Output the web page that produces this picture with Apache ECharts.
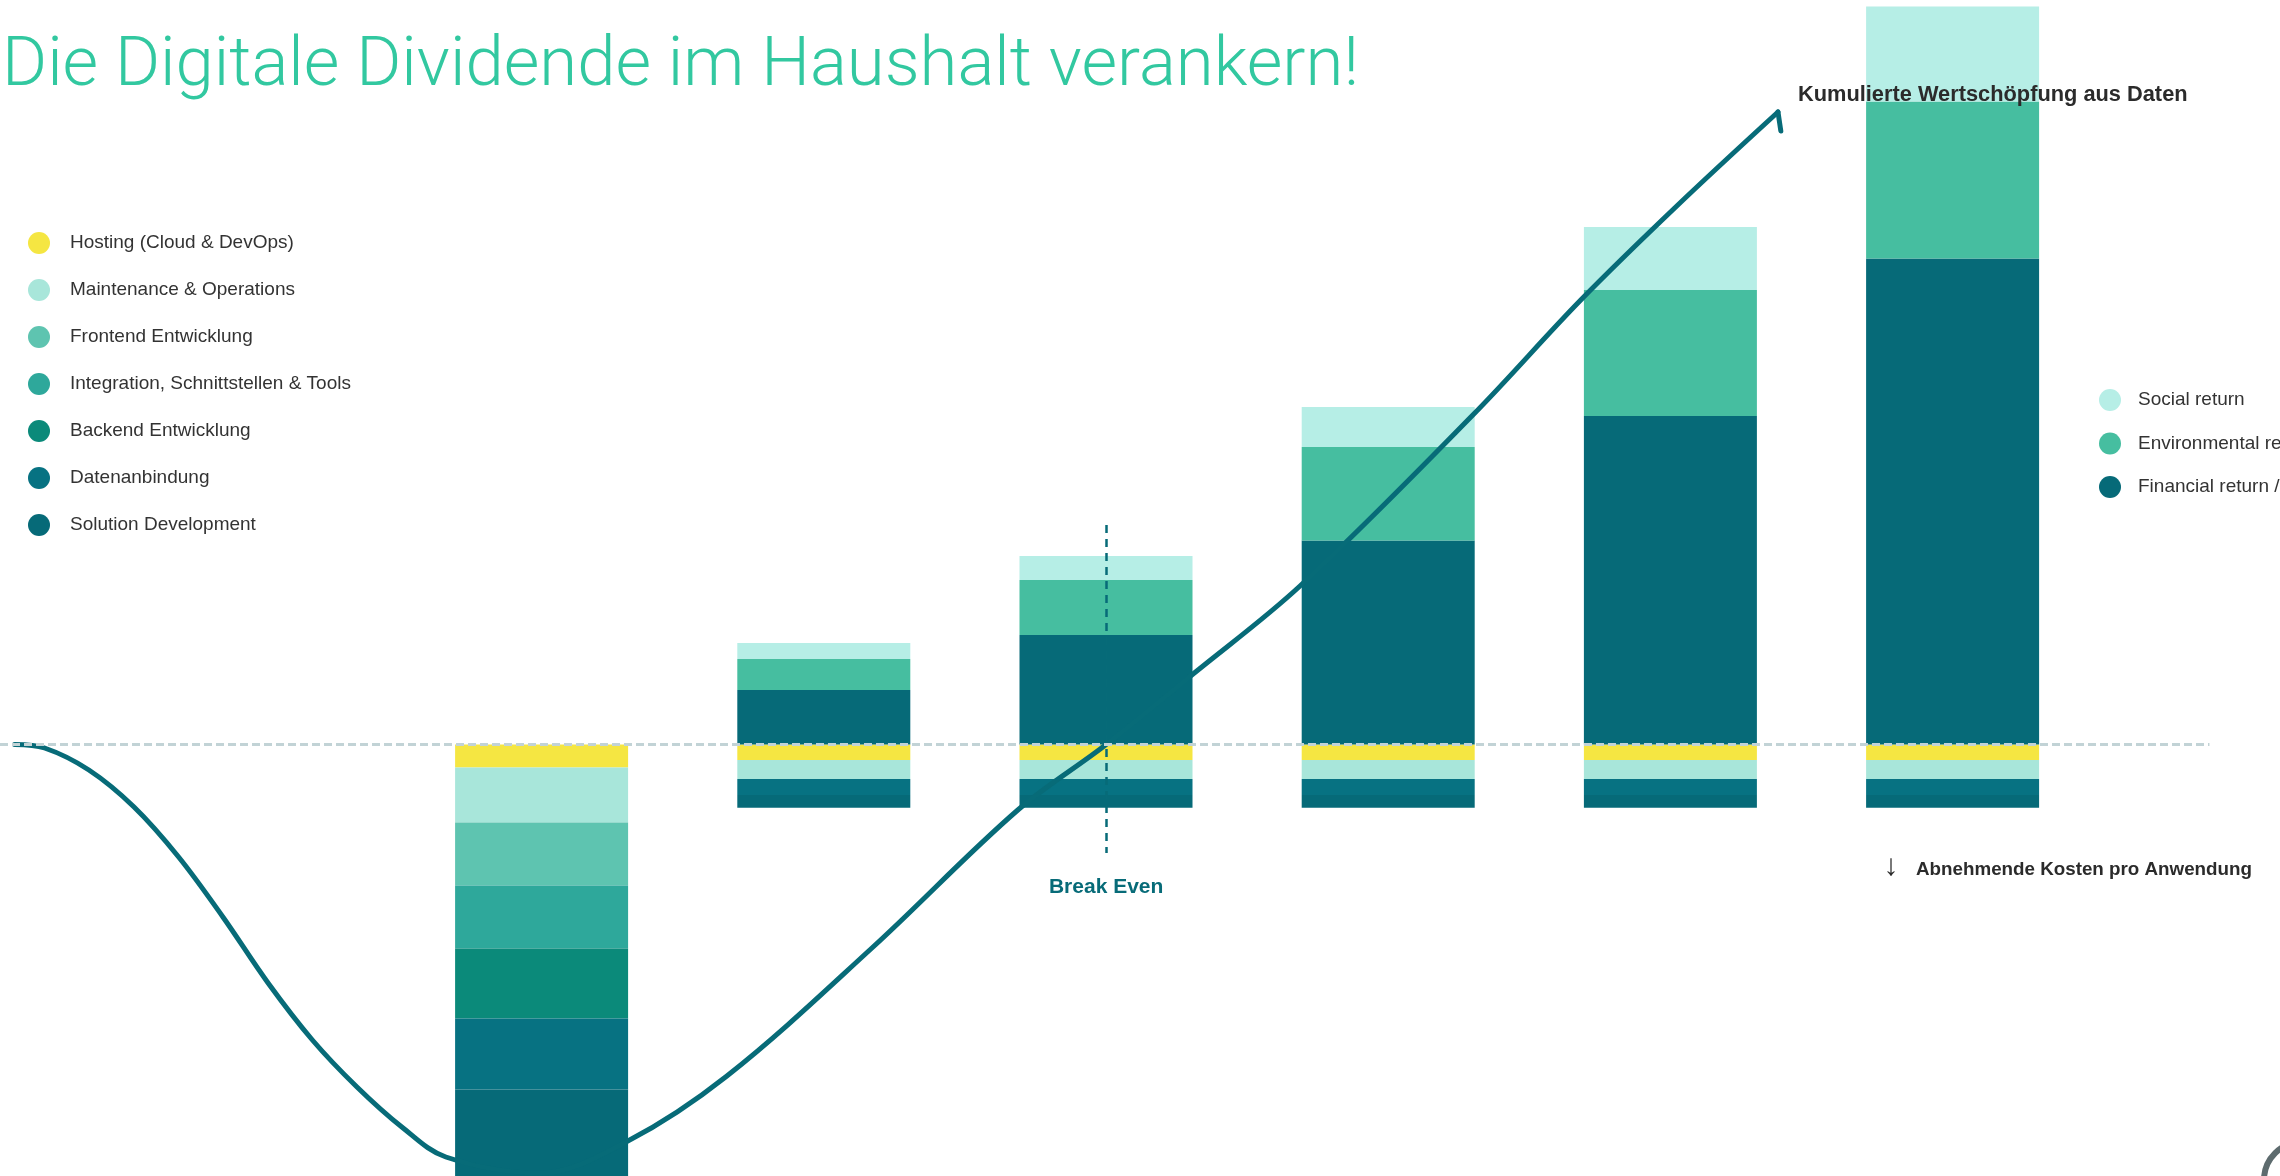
<!DOCTYPE html>
<html>
<head>
<meta charset="utf-8">
<title>Die Digitale Dividende im Haushalt verankern!</title>
<script src="https://cdn.jsdelivr.net/npm/echarts@6/dist/echarts.min.js"></script>
<style>
  html, body { margin: 0; padding: 0; background: #fff; }
  #chart { width: 2280px; height: 1176px; }
</style>
</head>
<body>
<div id="chart"></div>
<script>
// one stacked column per stage
const stages = ['1', '2', '3', '4', '5', '6'];

// costs per stage (below the zero line)
const hosting = [-2.3, -1.55, -1.55, -1.55, -1.55, -1.55];
const maintenance = [-5.5, -1.9, -1.9, -1.9, -1.9, -1.9];
const frontend = [-6.3, 0, 0, 0, 0, 0];
const integration = [-6.3, 0, 0, 0, 0, 0];
const backend = [-7.0, 0, 0, 0, 0, 0];
const datenanbindung = [-7.1, -1.6, -1.6, -1.6, -1.6, -1.6];
const solution = [-9.0, -1.27, -1.27, -1.27, -1.27, -1.27];

// returns per stage (above the zero line)
const financial = [0, 5.45, 10.95, 20.4, 32.85, 48.6];
const environmental = [0, 3.1, 5.5, 9.35, 12.6, 15.7];
const social = [0, 1.6, 2.4, 4.0, 6.3, 9.5];

// cumulative value curve (J-curve) and its arrow barb, x in stage units
const curveX = [-1.868, -1.762, -1.605, -1.445, -1.287, -1.130, -0.970, -0.813, -0.655, -0.496, -0.340, -0.007,
                0.305, 0.656, 1.170, 1.687, 2.0, 2.308, 2.687, 3.303, 3.682, 4.026, 4.381];
const curveY = [0, -0.35, -2.55, -6.25, -11.25, -17.25, -23.85, -29.55, -34.25, -38.25, -41.25, -42.85,
                -39.65, -33.15, -20.35, -6.55, 0, 7.05, 15.85, 33.05, 44.45, 53.95, 63.25];
const barbX = [4.381, 4.391];
const barbY = [63.25, 61.35];

// break even marker
const breakEvenStage = 2;
const breakEvenTop = 21.95;
const breakEvenBottom = -10.85;
const baselineEnd = 5.91;

const costNames = ['Hosting (Cloud & DevOps)', 'Maintenance & Operations', 'Frontend Entwicklung',
    'Integration, Schnittstellen & Tools', 'Backend Entwicklung', 'Datenanbindung', 'Solution Development'];
const costValues = [hosting, maintenance, frontend, integration, backend, datenanbindung, solution];
const costColors = ['#f5e642', '#a8e6da', '#5ec4b0', '#2ea89b', '#0b8a7a', '#077282', '#066a78'];

const returnNames = ['Financial return /', 'Environmental return', 'Social return'];
const returnValues = [financial, environmental, social];
const returnColors = ['#066a78', '#46bea0', '#b6eee6'];

const TEAL = '#076b78';
const FONT = '"Liberation Sans", Arial, Helvetica, sans-serif';
const Y_MIN = -43.15, Y_MAX = 74.45;

const chart = echarts.init(document.getElementById('chart'));

function barSeries(name, values, color) {
    return {
        name: name,
        type: 'bar',
        stack: 'total',
        barWidth: 173,
        xAxisIndex: 0,
        yAxisIndex: 0,
        itemStyle: { color: color },
        data: values,
        z: 2
    };
}

const series = [];
costNames.forEach((n, i) => series.push(barSeries(n, costValues[i], costColors[i])));
returnNames.forEach((n, i) => series.push(barSeries(n, returnValues[i], returnColors[i])));

series.push({
    name: 'Kumulierte Wertschöpfung',
    type: 'line',
    xAxisIndex: 1,
    yAxisIndex: 1,
    smooth: 0.35,
    symbol: 'none',
    clip: false,
    z: 4,
    lineStyle: { color: TEAL, width: 5, cap: 'round' },
    data: curveX.map((x, i) => [x, curveY[i]]),
    markLine: {
        silent: true,
        symbol: 'none',
        data: [
            [
                { coord: [-1.92, 0], lineStyle: { color: '#c2d3d6', width: 3, type: [8, 4] }, label: { show: false } },
                { coord: [baselineEnd, 0] }
            ],
            [
                {
                    coord: [breakEvenStage, breakEvenTop],
                    lineStyle: { color: TEAL, width: 2.5, type: [8, 6] },
                    label: {
                        show: true, position: 'end', distance: 24, formatter: 'Break Even',
                        color: TEAL, fontSize: 21, fontWeight: 'bold', fontFamily: FONT
                    }
                },
                { coord: [breakEvenStage, breakEvenBottom] }
            ]
        ]
    }
});

series.push({
    name: 'Pfeil',
    type: 'line',
    xAxisIndex: 1,
    yAxisIndex: 1,
    symbol: 'none',
    clip: false,
    z: 4,
    lineStyle: { color: TEAL, width: 5, cap: 'round' },
    data: barbX.map((x, i) => [x, barbY[i]])
});

// squeeze the light title to the width it has in the layout
const titleText = 'Die Digitale Dividende im Haushalt verankern!';
const titleFont = '300 69px Roboto';
const ctx = document.createElement('canvas').getContext('2d');
ctx.font = titleFont;
const titleScale = 1357 / ctx.measureText(titleText).width;

const legendText = { color: '#333', fontSize: 19, fontFamily: FONT };

chart.setOption({
    animation: false,
    backgroundColor: '#fff',
    grid: [
        { left: 400.5, right: 186.3, top: 0, bottom: 0 },
        { left: 0, right: 0, top: 0, bottom: 0 }
    ],
    xAxis: [
        { type: 'category', gridIndex: 0, data: stages, show: false },
        { type: 'value', gridIndex: 1, min: -1.92, max: 6.16, show: false }
    ],
    yAxis: [
        { type: 'value', gridIndex: 0, min: Y_MIN, max: Y_MAX, show: false },
        { type: 'value', gridIndex: 1, min: Y_MIN, max: Y_MAX, show: false }
    ],
    legend: [
        {
            data: costNames,
            orient: 'vertical',
            left: 28,
            top: 232,
            padding: 0,
            icon: 'circle',
            itemWidth: 22,
            itemHeight: 22,
            itemGap: 25,
            selectedMode: false,
            textStyle: Object.assign({ padding: [0, 0, 0, 15] }, legendText)
        },
        {
            data: ['Social return', 'Environmental return', 'Financial return /'],
            orient: 'vertical',
            left: 2099,
            top: 389,
            padding: 0,
            icon: 'circle',
            itemWidth: 22,
            itemHeight: 22,
            itemGap: 21.5,
            selectedMode: false,
            textStyle: Object.assign({ padding: [0, 0, 0, 12] }, legendText)
        }
    ],
    graphic: [
        {
            type: 'text', x: 2, y: 68, scaleX: titleScale, z: 10,
            style: {
                text: titleText, font: titleFont, fill: '#32c8a0',
                align: 'left', verticalAlign: 'middle', textAlign: 'left', textVerticalAlign: 'middle'
            }
        },
        {
            type: 'text', x: 1798, y: 95, z: 10,
            style: {
                text: 'Kumulierte Wertschöpfung aus Daten', font: 'bold 21.8px ' + FONT, fill: '#2b2b2b',
                align: 'left', verticalAlign: 'middle', textAlign: 'left', textVerticalAlign: 'middle'
            }
        },
        {
            type: 'text', x: 1891, y: 867, z: 10,
            style: {
                text: '↓', font: 'bold 30px ' + FONT, fill: '#2b2b2b',
                align: 'center', verticalAlign: 'middle', textAlign: 'center', textVerticalAlign: 'middle'
            }
        },
        {
            type: 'text', x: 1916, y: 870, z: 10,
            style: {
                text: 'Abnehmende Kosten pro Anwendung', font: 'bold 18.8px ' + FONT, fill: '#2b2b2b',
                align: 'left', verticalAlign: 'middle', textAlign: 'left', textVerticalAlign: 'middle'
            }
        },
        {
            type: 'circle', z: 10,
            shape: { cx: 2302, cy: 1180, r: 38 },
            style: { fill: 'none', stroke: '#5d6b6e', lineWidth: 6 }
        }
    ],
    series: series
});

window.addEventListener('resize', () => chart.resize());
</script>
</body>
</html>
